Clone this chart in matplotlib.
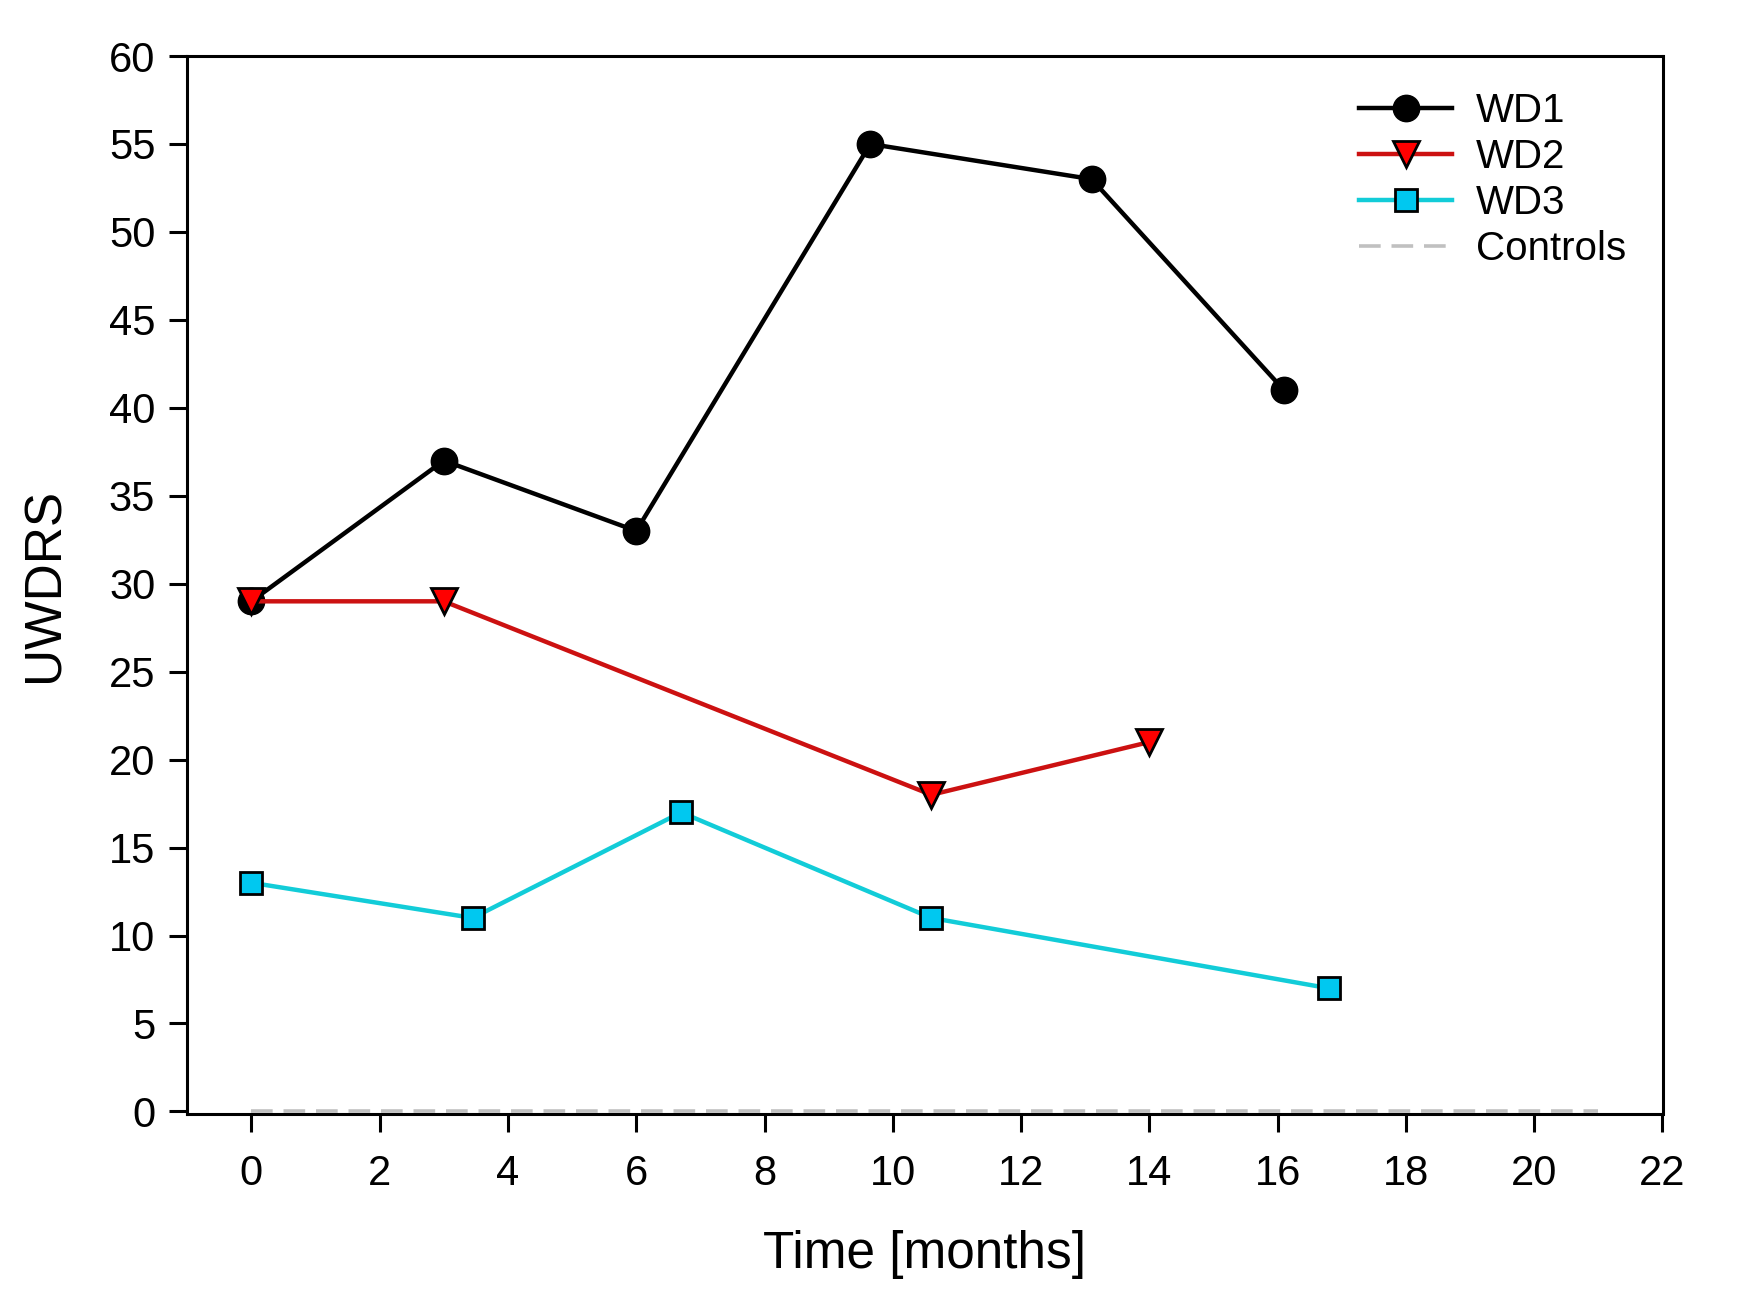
import matplotlib.pyplot as plt

plt.rcParams['font.family'] = ['Liberation Sans', 'DejaVu Sans']

# data
wd1_x = [0, 3, 6, 9.65, 13.1, 16.1]
wd1_y = [29, 37, 33, 55, 53, 41]
wd2_x = [0, 3, 10.6, 14]
wd2_y = [29, 29, 18, 21]
wd3_x = [0, 3.45, 6.7, 10.6, 16.8]
wd3_y = [13, 11, 17, 11, 7]
ctrl_x = [0, 21]
ctrl_y = [0, 0]

fig = plt.figure(figsize=(17.5, 13.03), dpi=100)
ax = fig.add_axes([0.107, 0.145, 0.843, 0.812])

ax.plot(ctrl_x, ctrl_y, color='#C0C0C0', lw=2.6, dashes=(6, 3), label='Controls', zorder=1)
ax.plot(wd1_x, wd1_y, color='black', lw=3.2, marker='o', ms=19,
        mfc='black', mec='black', label='WD1', zorder=3)
ax.plot(wd2_x, wd2_y, color='#CC1111', lw=3.2, marker='v', ms=19,
        mfc='#FF0000', mec='black', mew=2, label='WD2', zorder=4)
ax.plot(wd3_x, wd3_y, color='#12CCD8', lw=3.2, marker='s', ms=16,
        mfc='#00C8F0', mec='black', mew=2, label='WD3', zorder=3)

ax.set_xlim(-1, 22)
ax.set_ylim(-0.15, 60)
ax.set_xticks(range(0, 23, 2))
ax.set_yticks(range(0, 61, 5))
ax.tick_params(labelsize=30, length=13, width=2.2, pad=10)
ax.tick_params(axis='x', pad=16)
for s in ax.spines.values():
    s.set_linewidth(2.2)

ax.set_xlabel('Time [months]', fontsize=37, labelpad=26)
ax.set_ylabel('UWDRS', fontsize=37, labelpad=28)

h, l = ax.get_legend_handles_labels()
order = [1, 2, 3, 0]
ax.legend([h[i] for i in order], [l[i] for i in order], loc='upper right',
          frameon=False, fontsize=29, handlelength=2.3, handletextpad=0.6,
          labelspacing=0.2, borderaxespad=0.5)

plt.savefig('out.png', dpi=100)
